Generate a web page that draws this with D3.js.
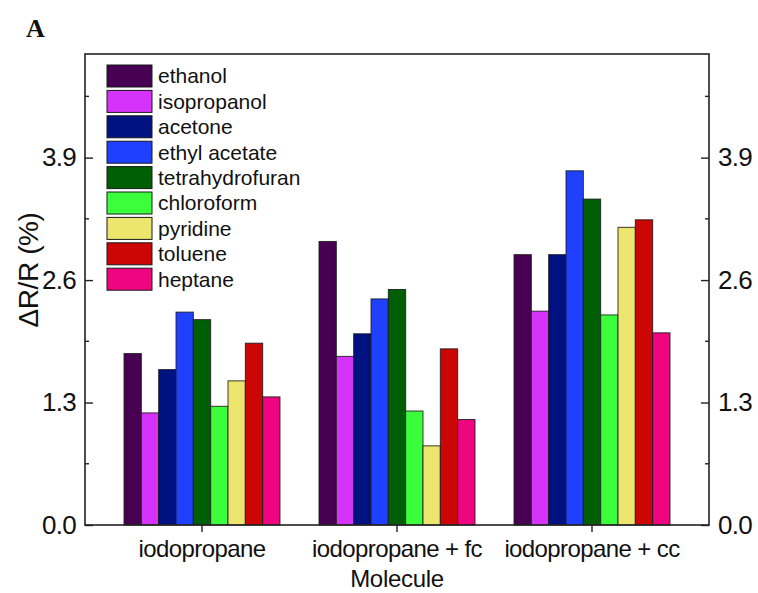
<!DOCTYPE html>
<html>
<head>
<meta charset="utf-8">
<script src="https://cdn.jsdelivr.net/npm/d3@7"></script>
<style>
  html, body { margin: 0; padding: 0; background: #fff; }
  svg { display: block; }
  text { font-family: "Liberation Sans", Arial, sans-serif; fill: #111; }
</style>
</head>
<body>
<svg id="chart" width="758" height="593"></svg>
<script>
// Molecule groups on the x axis
const groups = ["iodopropane", "iodopropane + fc", "iodopropane + cc"];

// Analyte vapours (one bar per analyte in each group)
const analytes = ["ethanol", "isopropanol", "acetone", "ethyl acetate", "tetrahydrofuran",
                  "chloroform", "pyridine", "toluene", "heptane"];

// ΔR/R (%) per analyte, in group order
const ethanol        = [1.82, 3.01, 2.87];
const isopropanol    = [1.19, 1.79, 2.27];
const acetone        = [1.65, 2.03, 2.87];
const ethylAcetate   = [2.26, 2.40, 3.76];
const tetrahydrofuran= [2.18, 2.50, 3.46];
const chloroform     = [1.26, 1.21, 2.23];
const pyridine       = [1.53, 0.84, 3.16];
const toluene        = [1.93, 1.87, 3.24];
const heptane        = [1.36, 1.12, 2.04];

const seriesValues = [ethanol, isopropanol, acetone, ethylAcetate, tetrahydrofuran,
                      chloroform, pyridine, toluene, heptane];

const colors = ["#480052", "#d633fa", "#001182", "#2040ff", "#005f05",
                "#3cff3c", "#ede66e", "#cc0505", "#ef057f"];

// Y axis ticks
const majorTicks = [0.0, 1.3, 2.6, 3.9];
const minorTicks = [0.65, 1.95, 3.25, 4.55];

const svg = d3.select("#chart");
const plot = { left: 85, right: 709, top: 54, bottom: 525 };

const x = d3.scaleBand().domain(groups).range([plot.left, plot.right]).padding(0.2);
const xInner = d3.scaleBand().domain(analytes).range([0, x.bandwidth()]);
const y = d3.scaleLinear().domain([0, 5.0]).range([plot.bottom, plot.top]);

// Bars
const rows = [];
groups.forEach((g, gi) => {
  analytes.forEach((a, ai) => rows.push({ g, a, ai, v: seriesValues[ai][gi] }));
});

svg.append("g")
  .selectAll("rect")
  .data(rows)
  .join("rect")
  .attr("x", d => x(d.g) + xInner(d.a))
  .attr("y", d => y(d.v))
  .attr("width", xInner.bandwidth())
  .attr("height", d => y(0) - y(d.v))
  .attr("fill", d => colors[d.ai])
  .attr("stroke", "#1a1a1a")
  .attr("stroke-opacity", 0.85)
  .attr("stroke-width", 1);

// Frame
svg.append("rect")
  .attr("x", plot.left).attr("y", plot.top)
  .attr("width", plot.right - plot.left).attr("height", plot.bottom - plot.top)
  .attr("fill", "none").attr("stroke", "#222").attr("stroke-width", 1.6);

const fmt = d3.format(".1f");
function styleAxis(g, size, spacing) {
  g.select(".domain").remove();
  g.selectAll("line").attr("stroke", "#222").attr("stroke-width", 1.4);
  g.selectAll("text").attr("font-size", size).attr("letter-spacing", spacing)
    .style("font-family", "Liberation Sans, Arial, sans-serif").attr("fill", "#111");
}

// Left axis (ticks inward)
const leftAxis = svg.append("g").attr("transform", `translate(${plot.left},0)`)
  .call(d3.axisLeft(y).tickValues(majorTicks).tickFormat(fmt).tickSizeInner(-8).tickSizeOuter(0).tickPadding(9));
styleAxis(leftAxis, 26, -0.7);
leftAxis.selectAll(".minor").data(minorTicks).join("line").attr("class", "minor")
  .attr("x1", 0).attr("x2", 4).attr("y1", d => y(d)).attr("y2", d => y(d))
  .attr("stroke", "#222").attr("stroke-width", 1.4);

// Right axis (ticks inward)
const rightAxis = svg.append("g").attr("transform", `translate(${plot.right},0)`)
  .call(d3.axisRight(y).tickValues(majorTicks).tickFormat(fmt).tickSizeInner(-8).tickSizeOuter(0).tickPadding(9));
styleAxis(rightAxis, 26, -0.7);
rightAxis.selectAll(".minor").data(minorTicks).join("line").attr("class", "minor")
  .attr("x1", 0).attr("x2", -4).attr("y1", d => y(d)).attr("y2", d => y(d))
  .attr("stroke", "#222").attr("stroke-width", 1.4);

// Bottom axis (ticks outward at group centres)
const bottomAxis = svg.append("g").attr("transform", `translate(0,${plot.bottom})`)
  .call(d3.axisBottom(x).tickSizeInner(7).tickSizeOuter(0).tickPadding(8));
styleAxis(bottomAxis, 24, -0.6);

// Axis titles
svg.append("text")
  .attr("x", (plot.left + plot.right) / 2).attr("y", 587)
  .attr("text-anchor", "middle").attr("font-size", 24).attr("letter-spacing", -0.3)
  .text("Molecule");

svg.append("text")
  .attr("transform", `translate(38,270) rotate(-90)`)
  .attr("text-anchor", "middle").attr("font-size", 28).attr("letter-spacing", -0.4)
  .text("ΔR/R (%)");

// Panel letter
svg.append("text")
  .attr("x", 26).attr("y", 37)
  .attr("font-size", 26).attr("font-weight", "bold")
  .style("font-family", "Liberation Serif, Times New Roman, serif")
  .text("A");

// Legend
const legend = svg.append("g").attr("transform", "translate(107,65)");
const item = legend.selectAll("g").data(analytes).join("g")
  .attr("transform", (d, i) => `translate(0,${i * 25.4})`);
item.append("rect")
  .attr("width", 45).attr("height", 22)
  .attr("fill", (d, i) => colors[i])
  .attr("stroke", "#1a1a1a").attr("stroke-width", 1);
item.append("text")
  .attr("x", 51).attr("y", 18.3)
  .attr("font-size", 21)
  .text(d => d);
</script>
</body>
</html>
